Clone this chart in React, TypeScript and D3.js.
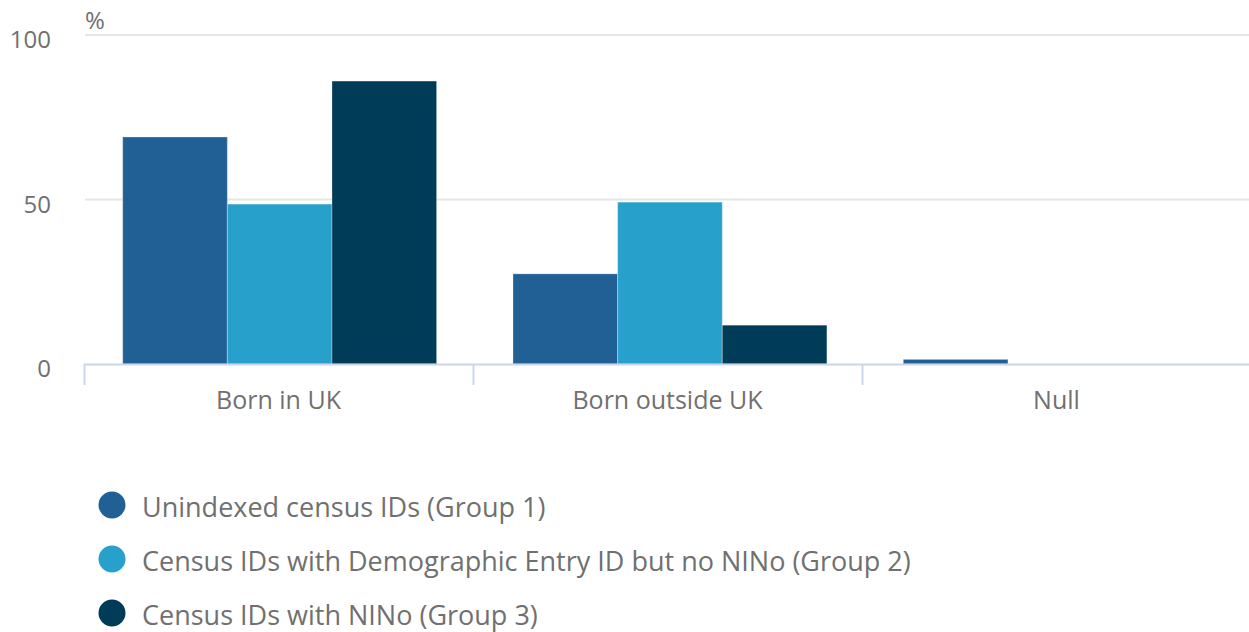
import React from "react";
import * as d3 from "d3";

const categories = ["Born in UK", "Born outside UK", "Null"];
const seriesNames = [
  "Unindexed census IDs (Group 1)",
  "Census IDs with Demographic Entry ID but no NINo (Group 2)",
  "Census IDs with NINo (Group 3)",
];
const group1 = [69, 27.4, 1.4];
const group2 = [48.6, 49.2, 0];
const group3 = [86, 11.8, 0];
const yTicks = [0, 50, 100];
const colors = ["#206095", "#27a0cc", "#003c57"];

const W = 1249;
const H = 632;
const FONT = "'Open Sans', sans-serif";

export default function App() {
  const left = 84;
  const right = 1249;
  const top = 35;
  const bottom = 364;
  // axis scale for ticks and labels
  const x = d3.scaleBand<string>().domain(categories).range([left, left + 389 * 3]);
  // bar placement scale
  const xb = d3.scaleBand<string>().domain(categories).range([84.5, 84.5 + 390.3 * 3]);
  const inner = d3.scaleBand<number>().domain([0, 1, 2]).range([0, xb.bandwidth()]).paddingInner(0).paddingOuter(0.365);
  const y = d3.scaleLinear().domain([0, 100]).range([bottom, top]);
  const series = [group1, group2, group3];
  const tickXs = categories.map((c) => x(c)!);

  return (
    <svg width={W} height={H} style={{ position: "absolute", left: 0, top: 0, fontFamily: FONT }}>
      {yTicks.filter((t) => t !== 0).map((t) => (
        <line key={t} x1={left + 1} x2={right} y1={y(t)} y2={y(t)} stroke="#e6e6e6" strokeWidth={2} />
      ))}
      {yTicks.map((t) => (
        <text key={t} x={51} y={y(t) + 13} textAnchor="end" fontSize={24} fill="#707070">
          {t}
        </text>
      ))}
      <text x={85} y={29} fontSize={24} fill="#707070">%</text>
      {series.map((vals, si) =>
        categories.map((c, ci) => {
          const v = vals[ci];
          if (v <= 0) return null;
          const bx = xb(c)! + inner(si)!;
          return (
            <rect
              key={`${si}-${ci}`}
              x={bx}
              y={y(v)}
              width={inner.bandwidth()}
              height={y(0) - y(v)}
              fill={colors[si]}
              stroke="#ffffff"
              strokeOpacity={0.3}
              strokeWidth={1}
            />
          );
        })
      )}
      <line x1={left} x2={right} y1={bottom + 0.5} y2={bottom + 0.5} stroke="#ccd6eb" strokeWidth={2} />
      {tickXs.map((tx, i) => (
        <line key={i} x1={tx + 0.5} x2={tx + 0.5} y1={bottom} y2={bottom + 21} stroke="#ccd6eb" strokeWidth={2} />
      ))}
      {categories.map((c) => (
        <text key={c} x={x(c)! + x.bandwidth() / 2} y={409} textAnchor="middle" fontSize={25} fill="#707070">
          {c}
        </text>
      ))}
      {seriesNames.map((s, i) => (
        <g key={s} transform={`translate(0, ${505 + i * 54})`}>
          <circle cx={112} cy={0} r={13.5} fill={colors[i]} />
          <text x={142} y={12} fontSize={27} fill="#707070">
            {s}
          </text>
        </g>
      ))}
    </svg>
  );
}
